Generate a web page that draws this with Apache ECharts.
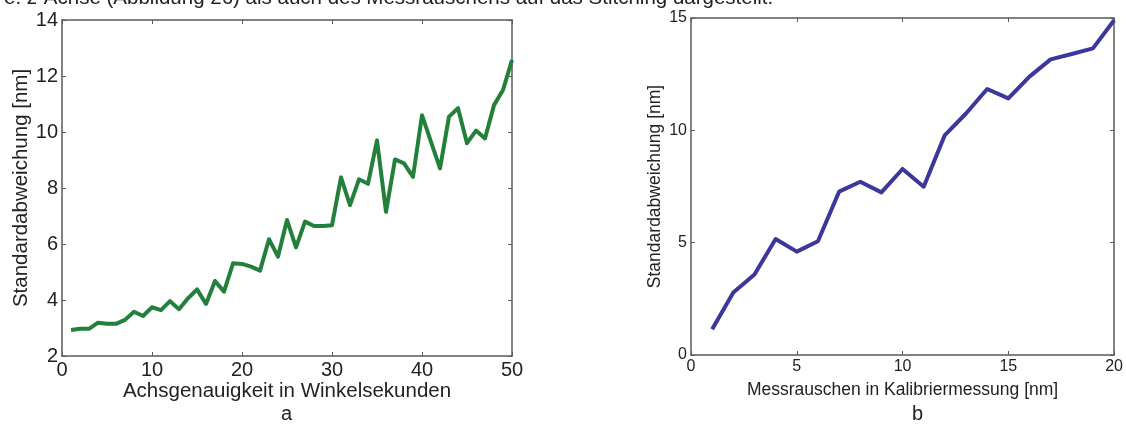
<!DOCTYPE html>
<html>
<head>
<meta charset="utf-8">
<title>Standardabweichung</title>
<script src="https://cdn.jsdelivr.net/npm/echarts@6/dist/echarts.min.js"></script>
<style>
  html, body { margin: 0; padding: 0; background: #fff; }
  #chart { width: 1126px; height: 429px; }
</style>
</head>
<body>
<div id="chart"></div>
<script>
// Teil a: Achsgenauigkeit (Winkelsekunden) -> Standardabweichung [nm]
const xA = [1, 2, 3, 4, 5, 6, 7, 8, 9, 10, 11, 12, 13, 14, 15, 16, 17, 18, 19, 20,
  21, 22, 23, 24, 25, 26, 27, 28, 29, 30, 31, 32, 33, 34, 35, 36, 37, 38, 39, 40,
  41, 42, 43, 44, 45, 46, 47, 48, 49, 50];
const yA = [2.93, 2.97, 2.97, 3.19, 3.15, 3.15, 3.29, 3.58, 3.43, 3.74, 3.64, 3.96, 3.67, 4.06, 4.38, 3.86, 4.68, 4.3, 5.31, 5.29,
  5.19, 5.05, 6.17, 5.55, 6.86, 5.88, 6.8, 6.64, 6.64, 6.67, 8.38, 7.39, 8.31, 8.15, 9.7, 7.15, 9.02, 8.88, 8.4, 10.6,
  9.65, 8.7, 10.55, 10.85, 9.6, 10.05, 9.77, 10.96, 11.5, 12.57];

// Teil b: Messrauschen in Kalibriermessung [nm] -> Standardabweichung [nm]
const xB = [1, 2, 3, 4, 5, 6, 7, 8, 9, 10, 11, 12, 13, 14, 15, 16, 17, 18, 19, 20];
const yB = [1.15, 2.78, 3.58, 5.16, 4.6, 5.06, 7.27, 7.71, 7.24, 8.28, 7.49, 9.79, 10.75, 11.84, 11.42, 12.39, 13.16, 13.4, 13.65, 14.9];

const ticksA_x = [0, 50, 10];  // min, max, interval
const ticksA_y = [2, 14, 2];
const ticksB_x = [0, 20, 5];
const ticksB_y = [0, 15, 5];

const FONT = 'Liberation Sans, Arial, sans-serif';
const AXIS_COLOR = '#5a5a5a';

const chart = echarts.init(document.getElementById('chart'));

// Achse im MATLAB-Stil: Ticks nach innen, Rahmen ringsum
function valueAxis(gridIndex, t, position, showLabel, fontSize, extra) {
  return Object.assign({
    type: 'value',
    gridIndex: gridIndex,
    position: position,
    min: t[0],
    max: t[1],
    interval: t[2],
    nameMoveOverlap: false,
    axisLine: { show: true, onZero: false, lineStyle: { color: AXIS_COLOR, width: 1.5 } },
    axisTick: { show: true, inside: true, length: 4, lineStyle: { color: AXIS_COLOR } },
    axisLabel: { show: showLabel, color: '#222', fontFamily: FONT, fontSize: fontSize, margin: 4 },
    splitLine: { show: false }
  }, extra || {});
}

const nameStyleA = { color: '#222', fontFamily: FONT, fontSize: 20.5 };
const nameStyleB = { color: '#222', fontFamily: FONT, fontSize: 17.5 };

const option = {
  backgroundColor: '#fff',
  animation: false,
  grid: [
    { left: 62, top: 20, right: 614, bottom: 73 },
    { left: 691, top: 18, right: 11, bottom: 74 }
  ],
  xAxis: [
    valueAxis(0, ticksA_x, 'bottom', true, 20, {
      name: 'Achsgenauigkeit in Winkelsekunden',
      nameLocation: 'middle', nameGap: 25, nameTextStyle: nameStyleA
    }),
    valueAxis(0, ticksA_x, 'top', false, 20),
    valueAxis(1, ticksB_x, 'bottom', true, 16, {
      name: 'Messrauschen in Kalibriermessung [nm]',
      nameLocation: 'middle', nameGap: 26, nameTextStyle: nameStyleB
    }),
    valueAxis(1, ticksB_x, 'top', false, 16)
  ],
  yAxis: [
    valueAxis(0, ticksA_y, 'left', true, 20, {
      name: 'Standardabweichung [nm]',
      nameLocation: 'middle', nameGap: 30, nameTextStyle: nameStyleA
    }),
    valueAxis(0, ticksA_y, 'right', false, 20),
    valueAxis(1, ticksB_y, 'left', true, 16, {
      name: 'Standardabweichung [nm]',
      nameLocation: 'middle', nameGap: 27, nameTextStyle: nameStyleB
    }),
    valueAxis(1, ticksB_y, 'right', false, 16)
  ],
  series: [
    {
      type: 'line',
      xAxisIndex: 0,
      yAxisIndex: 0,
      data: xA.map((x, i) => [x, yA[i]]),
      symbol: 'none',
      lineStyle: { color: '#22803a', width: 4, join: 'round' }
    },
    {
      type: 'line',
      xAxisIndex: 2,
      yAxisIndex: 2,
      data: xB.map((x, i) => [x, yB[i]]),
      symbol: 'none',
      lineStyle: { color: '#3b379c', width: 4, join: 'round' }
    }
  ],
  graphic: [
    {
      type: 'text', left: 4, top: -12,
      style: {
        text: 'e. z-Achse (Abbildung 26) als auch des Messrauschens auf das Stitching dargestellt.',
        fill: '#222', font: '20.5px ' + FONT
      }
    },
    {
      type: 'text', left: 281, top: 404,
      style: { text: 'a', fill: '#222', font: '20px ' + FONT }
    },
    {
      type: 'text', left: 912, top: 404,
      style: { text: 'b', fill: '#222', font: '20px ' + FONT }
    }
  ]
};

chart.setOption(option);
window.addEventListener('resize', chart.resize);
</script>
</body>
</html>
